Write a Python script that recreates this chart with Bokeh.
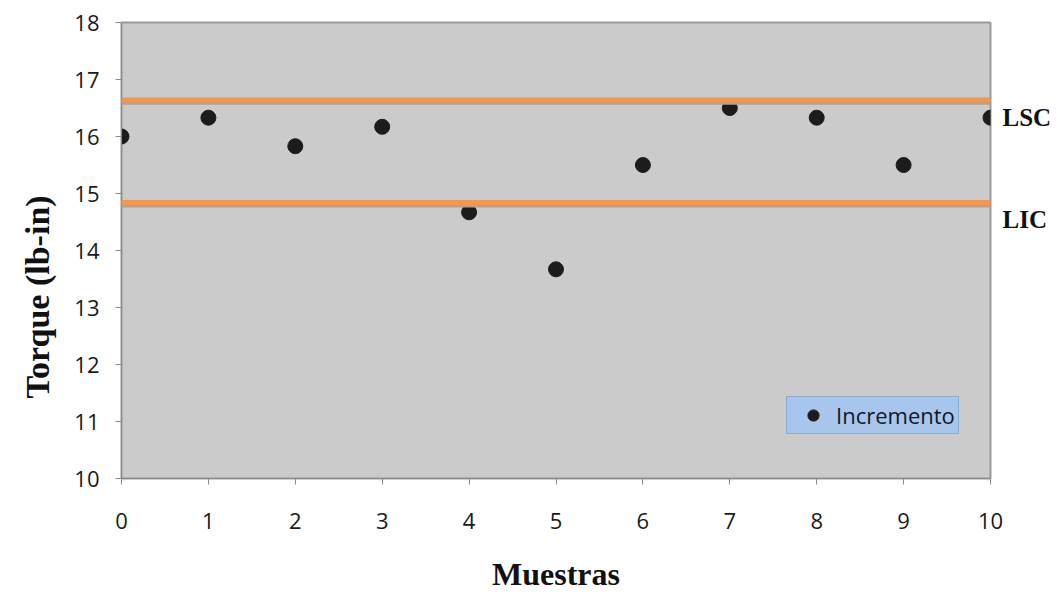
from bokeh.plotting import figure
from bokeh.models import Span, Range1d, FixedTicker, LinearAxis, Title
from bokeh.embed import file_html
from bokeh.resources import INLINE

# ---- data ----
muestras = [0, 1, 2, 3, 4, 5, 6, 7, 8, 9, 10]
torque = [16.0, 16.33, 15.83, 16.17, 14.67, 13.67, 15.5, 16.5, 16.33, 15.5, 16.33]
lsc = 16.64
lic = 14.84
x_ticks = [0, 1, 2, 3, 4, 5, 6, 7, 8, 9, 10]
y_ticks = [10, 11, 12, 13, 14, 15, 16, 17, 18]
series_name = "Incremento"
x_title = "Muestras"
y_title = "Torque  (lb-in)"
lsc_text = "LSC"
lic_text = "LIC"

p = figure(width=1062, height=594, output_backend="svg", toolbar_location=None,
           x_range=Range1d(0, 10), y_range=Range1d(10, 18),
           min_border_left=120, min_border_right=72, min_border_top=22,
           min_border_bottom=116)
p.title.visible = False
p.background_fill_color = "#cbcbcb"
p.border_fill_color = "white"
p.outline_line_color = "#9a9a9a"
p.outline_line_width = 2
p.xgrid.visible = False
p.ygrid.visible = False

for ax in (p.xaxis, p.yaxis):
    ax.axis_line_color = "#8a8a8a"
    ax.major_tick_line_color = "#8a8a8a"
    ax.major_tick_in = 0
    ax.major_tick_out = 6
    ax.minor_tick_line_color = None
    ax.major_label_text_font = "Open Sans"
    ax.major_label_text_font_size = "22px"
    ax.major_label_text_color = "#1a1a1a"

p.xaxis.ticker = FixedTicker(ticks=x_ticks)
p.yaxis.ticker = FixedTicker(ticks=y_ticks)
p.xaxis.major_label_standoff = 28
p.yaxis.major_label_standoff = 16

serif = dict(text_font="Liberation Serif", text_font_style="bold", text_color="#111111")

# x axis title
p.xaxis.axis_label = x_title
p.xaxis.axis_label_standoff = 24
p.xaxis.axis_label_text_font = "Liberation Serif"
p.xaxis.axis_label_text_font_style = "bold"
p.xaxis.axis_label_text_font_size = "32px"
p.xaxis.axis_label_text_color = "#111111"

# control limit lines (with a soft shadow below)
for lim in (lsc, lic):
    p.add_layout(Span(location=lim - 0.05, dimension="width", line_color="#a5a5a5", line_width=4))
    p.add_layout(Span(location=lim, dimension="width", line_color="#f79646", line_width=5))

p.scatter(muestras, torque, size=15, color="#1c1c1c", legend_label=series_name)

# LSC / LIC labels on a right axis (range shifted so the labels sit just below the lines)
p.extra_y_ranges = {"lim": Range1d(10 + 0.3, 18 + 0.3)}
rax = LinearAxis(y_range_name="lim", ticker=FixedTicker(ticks=[lsc, lic]),
                 major_label_overrides={lsc: lsc_text, lic: lic_text})
rax.axis_line_color = None
rax.major_tick_line_color = None
rax.minor_tick_line_color = None
rax.major_tick_out = 0
rax.major_label_standoff = 12
rax.major_label_text_font = "Liberation Serif"
rax.major_label_text_font_style = "bold"
rax.major_label_text_font_size = "25px"
rax.major_label_text_color = "#111111"
p.add_layout(rax, "right")

# y axis title (placed as a left title so it can sit lower, like the reference)
p.add_layout(Title(text=y_title, align="left", offset=80, standoff=32,
                   text_font_size="34px", **serif), "left")

leg = p.legend[0]
leg.location = (665, 44)
leg.background_fill_color = "#a8c6ec"
leg.background_fill_alpha = 1
leg.border_line_color = "#6d8dbd"
leg.border_line_width = 1
leg.padding = 3
leg.margin = 0
leg.spacing = 0
leg.glyph_width = 46
leg.glyph_height = 28
leg.label_standoff = 0
leg.label_height = 28
leg.label_text_font = "Open Sans"
leg.label_text_font_size = "22px"
leg.label_text_color = "#101828"

open("out.html", "w").write(file_html(p, INLINE))
